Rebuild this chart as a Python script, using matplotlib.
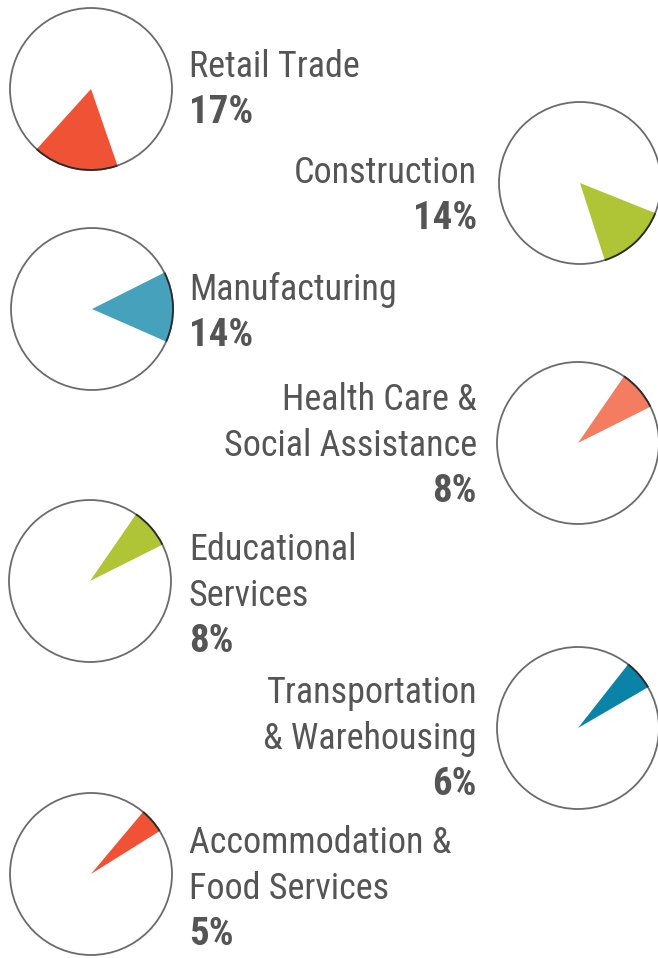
import matplotlib

matplotlib.use("Agg")
import matplotlib.pyplot as plt
from matplotlib import font_manager
from matplotlib.patches import Arc, Circle, Wedge

# Share of employment by industry
sectors = [
    "Retail Trade",
    "Construction",
    "Manufacturing",
    "Health Care &\nSocial Assistance",
    "Educational\nServices",
    "Transportation\n& Warehousing",
    "Accommodation &\nFood Services",
]
shares = [17, 14, 14, 8, 8, 6, 5]
colors = ["#F05236", "#AFC536", "#46A2BC", "#F47C60", "#AFC536", "#0A83A6", "#F05236"]

# Layout in pixels, measured from the top-left corner
W, H = 658, 958
centers = [(91, 89), (580, 183), (92, 309), (578, 443), (90, 581), (578, 728), (91, 874)]
radius = 81
mid_angles = [258.5, 313, 1.5, 41, 41, 41, 41]   # direction each slice points to
first_baseline = [77, 183, 300, 410, 560, 703, 853]
line_gap = 46
text_left_x, text_right_x = 189, 477

installed = {f.name for f in font_manager.fontManager.ttflist}
family = next((f for f in ("Liberation Sans Narrow", "Roboto Condensed", "Roboto",
                           "Liberation Sans") if f in installed), "DejaVu Sans")
text_color = "#555555"

fig = plt.figure(figsize=(W / 100, H / 100), dpi=100)
ax = fig.add_axes([0, 0, 1, 1])
ax.set_xlim(0, W)
ax.set_ylim(0, H)
ax.set_aspect("equal")
ax.axis("off")

for i, (name, pct, col) in enumerate(zip(sectors, shares, colors)):
    cx, cy = centers[i]
    cy = H - cy
    span = pct / 100 * 360
    t1 = mid_angles[i] - span / 2
    t2 = mid_angles[i] + span / 2

    ax.add_patch(Circle((cx, cy), radius, facecolor="white", edgecolor="#6b6b6b",
                        lw=1.3, zorder=1))
    ax.add_patch(Wedge((cx, cy), radius, t1, t2, facecolor=col, edgecolor="none",
                       zorder=2))
    ax.add_patch(Arc((cx, cy), 2 * radius, 2 * radius, theta1=t1, theta2=t2,
                     color="#2a2a2a", lw=1.3, zorder=3))

    on_left = cx < W / 2
    tx = text_left_x if on_left else text_right_x
    ha = "left" if on_left else "right"
    lines = name.split("\n") + [f"{pct}%"]
    for j, line in enumerate(lines):
        by = H - (first_baseline[i] + j * line_gap)
        bold = j == len(lines) - 1
        ax.text(tx, by, line, ha=ha, va="baseline", fontsize=28 if bold else 26,
                color=text_color, family=family,
                fontweight="bold" if bold else "normal")

fig.savefig("out.png", dpi=100)
